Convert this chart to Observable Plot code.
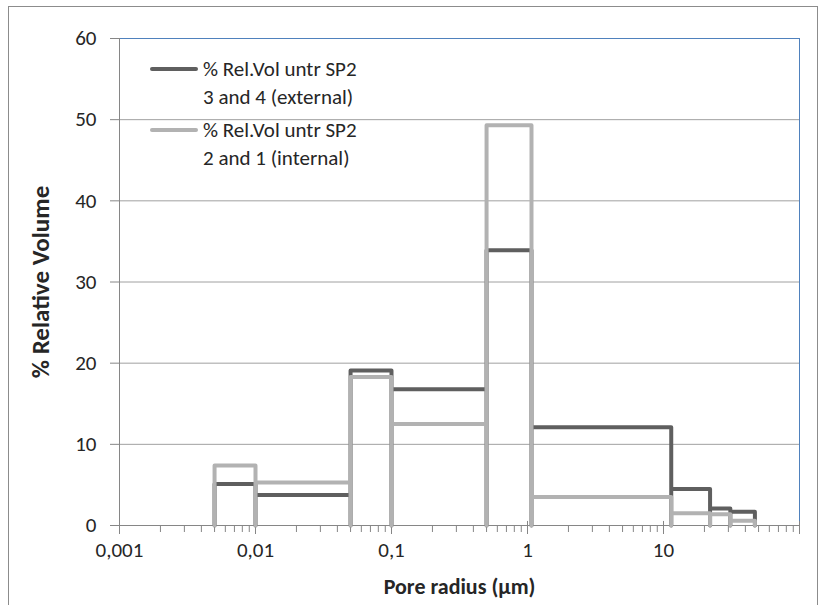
<!DOCTYPE html>
<html>
<head>
<meta charset="utf-8">
<script src="https://cdn.jsdelivr.net/npm/d3@7"></script>
<script src="https://cdn.jsdelivr.net/npm/@observablehq/plot@0.6"></script>
<style>
  body { margin: 0; background: #fff; }
  #wrap { position: relative; width: 825px; height: 605px; overflow: hidden; font-family: Calibri, Carlito, Lato, sans-serif; }
  #frame { position: absolute; left: 8px; top: 6px; width: 810px; height: 660px; border: 1px solid #8c8c8c; box-sizing: border-box; pointer-events: none; }
  #chart { position: absolute; left: 0; top: 0; }
  .leg { position: absolute; left: 150px; font-size: 21px; color: #262626; line-height: 28px; }
  .leg .sw { position: absolute; left: 0; width: 48px; height: 4px; border-radius: 2px; }
  .leg .tx { position: absolute; left: 53px; white-space: nowrap; }
</style>
</head>
<body>
<div id="wrap">
  <div id="chart"></div>
  <div id="legend"></div>
  <div id="frame"></div>
</div>
<script>
// Bin edges (pore radius, µm) and % relative volume per bin
const binEdges = [0.005, 0.01, 0.05, 0.1, 0.5, 1.07, 11.4, 22, 31, 47];
const externalVol = [5.1, 3.75, 19.1, 16.8, 33.9, 12.1, 4.5, 2.1, 1.7];
const internalVol = [7.4, 5.3, 18.3, 12.5, 49.3, 3.5, 1.5, 1.4, 0.6];

const seriesNames = ["% Rel.Vol untr SP2\n3 and 4 (external)", "% Rel.Vol untr SP2\n2 and 1 (internal)"];
const seriesColors = ["#5f5f5f", "#b2b2b2"];

const majorTicks = [0.001, 0.01, 0.1, 1, 10, 100];
const majorLabels = ["0,001", "0,01", "0,1", "1", "10", ""];
const yTicks = [0, 10, 20, 30, 40, 50, 60];
const minorMultipliers = [2, 3, 4, 5, 6, 7, 8, 9];

const xLabel = "Pore radius (µm)";
const yLabel = "% Relative Volume";

function outline(edges, vals) {
  const pts = [];
  vals.forEach((v, i) => {
    pts.push({x: edges[i], y: 0}, {x: edges[i], y: v}, {x: edges[i + 1], y: v}, {x: edges[i + 1], y: 0});
  });
  return pts;
}
const extPts = outline(binEdges, externalVol);
const intPts = outline(binEdges, internalVol);

const minorTicks = [];
majorTicks.slice(0, -1).forEach(m => minorMultipliers.forEach(k => minorTicks.push(m * k)));

const labelOf = new Map(majorTicks.map((t, i) => [t, majorLabels[i]]));
const axisColor = "#868686";
const font = "Calibri, Carlito, Lato, sans-serif";

const chart = Plot.plot({
  width: 825,
  height: 605,
  marginLeft: 119,
  marginRight: 26,
  marginTop: 38,
  marginBottom: 80,
  style: {fontFamily: font, fontSize: "21px", color: "#262626", background: "transparent", overflow: "visible"},
  x: {type: "log", domain: [0.001, 100]},
  y: {domain: [0, 60]},
  marks: [
    Plot.gridY(yTicks.filter(d => d > 0 && d < 60), {stroke: "#a0a0a0", strokeOpacity: 1}),
    Plot.ruleY([60], {stroke: "#4f81bd", strokeWidth: 1}),
    Plot.ruleX([100], {stroke: "#4f81bd", strokeWidth: 1}),
    Plot.axisY({ticks: yTicks, tickSize: 9, tickPadding: 14, stroke: axisColor, label: null, fontSize: 21}),
    Plot.axisX({ticks: minorTicks, tickSize: 7, tickFormat: () => "", stroke: axisColor, label: null}),
    Plot.axisX({ticks: majorTicks, tickSize: 9, tickPadding: 8, tickFormat: d => labelOf.get(d), stroke: axisColor, label: null, fontSize: 21}),
    Plot.ruleX(majorTicks, {y1: 0, y2: 0.5, stroke: axisColor}),
    Plot.ruleY([0], {stroke: axisColor}),
    Plot.ruleX([0.001], {stroke: axisColor}),
    Plot.line(extPts, {x: "x", y: "y", stroke: seriesColors[0], strokeWidth: 4, strokeLinejoin: "round", strokeLinecap: "round"}),
    Plot.line(intPts, {x: "x", y: "y", stroke: seriesColors[1], strokeWidth: 4, strokeLinejoin: "round", strokeLinecap: "round"}),
    Plot.text([xLabel], {frameAnchor: "bottom", dy: 68, fontWeight: "bold", fontSize: 22, fill: "#262626", textAnchor: "middle"}),
    Plot.text([yLabel], {frameAnchor: "left", dx: -79, dy: 0, rotate: -90, fontWeight: "bold", fontSize: 25, fill: "#262626", textAnchor: "middle"})
  ]
});
document.getElementById("chart").appendChild(chart);

// Legend (inside the plot area, top-left)
const legend = document.getElementById("legend");
const legTops = [55, 116];
seriesNames.forEach((name, i) => {
  const item = document.createElement("div");
  item.className = "leg";
  item.style.top = legTops[i] + "px";
  const sw = document.createElement("div");
  sw.className = "sw";
  sw.style.background = seriesColors[i];
  sw.style.top = "12px";
  const tx = document.createElement("div");
  tx.className = "tx";
  tx.innerHTML = name.split("\n").join("<br>");
  item.appendChild(sw);
  item.appendChild(tx);
  legend.appendChild(item);
});
</script>
</body>
</html>
